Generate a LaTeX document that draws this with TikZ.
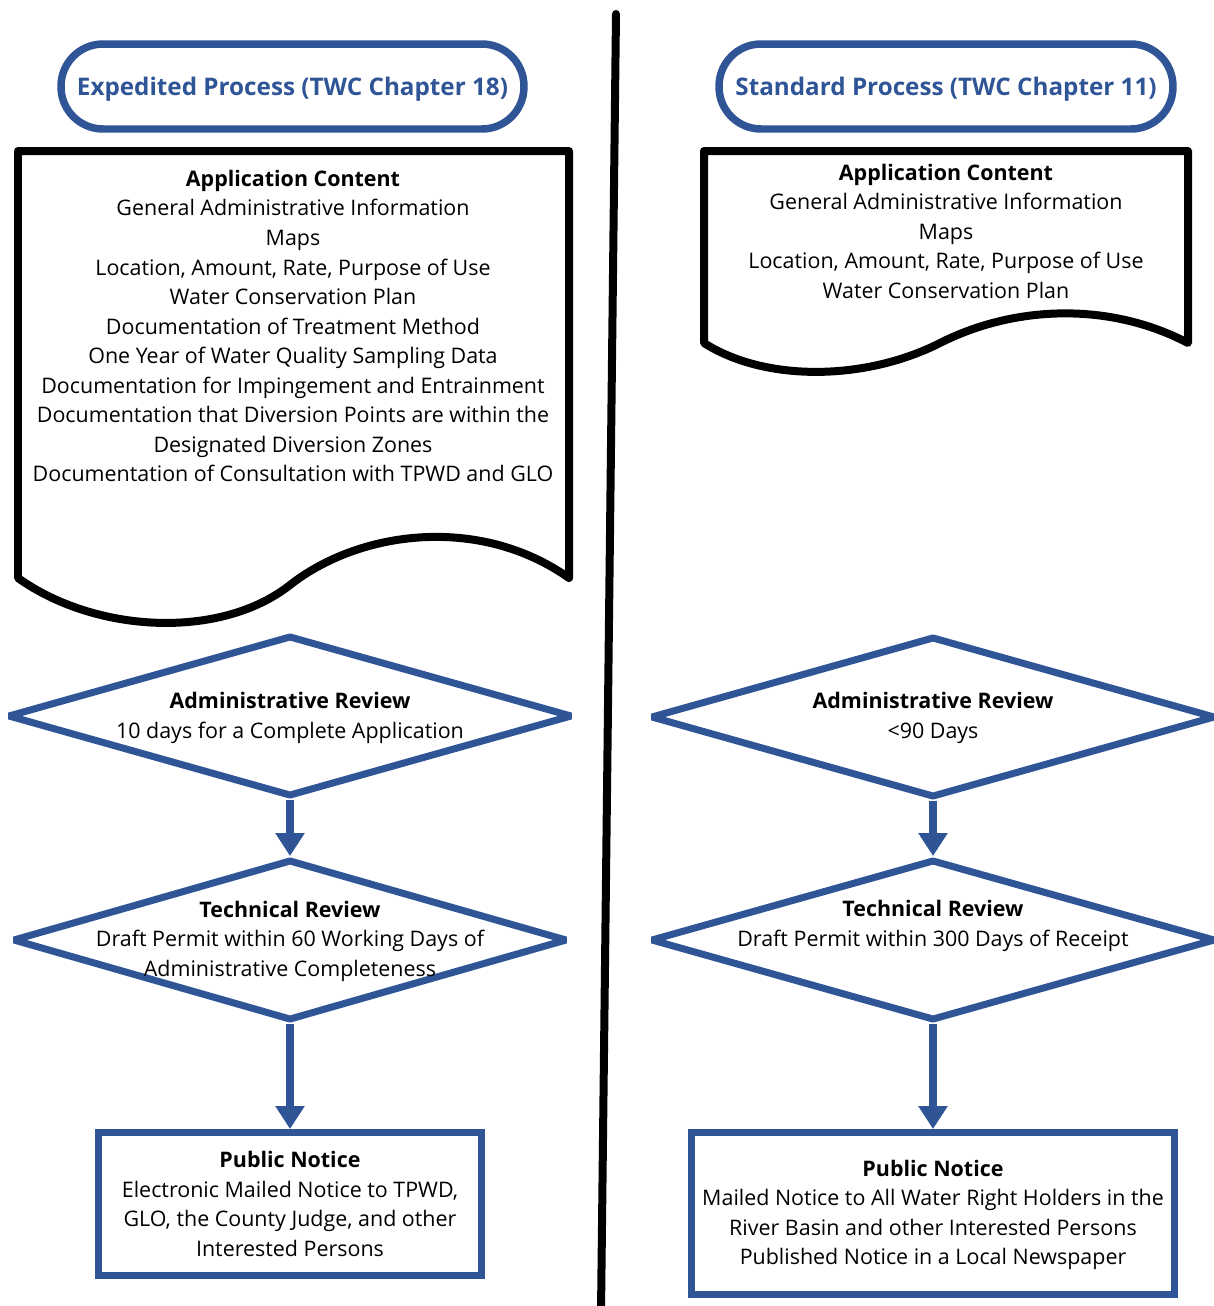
\documentclass[tikz,border=0pt]{standalone}
\usepackage{fontspec}
\setmainfont{Open Sans}
\usetikzlibrary{shapes.geometric}
\usetikzlibrary{arrows.meta}

\definecolor{twcblue}{RGB}{47,85,151}

\tikzset{
    pill/.style={draw=twcblue, line width=0.15cm, rounded corners=0.84cm,
        minimum height=1.7cm, inner sep=0pt, text=twcblue, text depth=0pt,
        font=\fontsize{13.8}{17}\selectfont\bfseries},
    docshape/.style={draw=black, line width=0.16cm, line join=round},
    txt/.style={align=center, inner sep=0pt, font=\fontsize{12.2}{16.8}\selectfont},
    decide/.style={diamond, draw=twcblue, line width=0.14cm, line join=bevel,
        inner sep=0pt, minimum height=3.22cm},
    notice/.style={draw=twcblue, line width=0.14cm, inner sep=0pt},
    flow/.style={draw=twcblue, line width=0.16cm,
        -{Triangle[width=0.56cm, length=0.46cm]}}
}

\begin{document}
\begin{tikzpicture}[x=0.02cm, y=-0.02cm]
\useasboundingbox (0,0) rectangle (1214,1306);

\coordinate (T) at (616,14);
\coordinate (B) at (601,1312);
\draw[black, line width=0.16cm, line cap=round] (T)--(B);

% expedited
\node[pill, minimum width=9.26cm] (exp) at (292.5,86.5) {Expedited Process (TWC Chapter 18)};
\draw[docshape] (18,151) -- (569,151) -- (569,578)
    .. controls (480,515) and (360,530) .. (290,585)
    .. controls (220,640) and (95,633) .. (18,578) -- cycle;
\node[txt] (app1) at (293,326) {\textbf{Application Content}\\
    General Administrative Information\\
    Maps\\
    Location, Amount, Rate, Purpose of Use\\
    Water Conservation Plan\\
    Documentation of Treatment Method\\
    One Year of Water Quality Sampling Data\\
    Documentation for Impingement and Entrainment\\
    Documentation that Diversion Points are within the\\
    Designated Diversion Zones\\
    Documentation of Consultation with TPWD and GLO};
\node[decide, minimum width=11.3cm] (adm1) at (290,716) {};
\node[txt] (admtxt1) at (290,718) {\textbf{Administrative Review}\\
    10 days for a Complete Application};
\node[decide, minimum width=11.1cm] (tec1) at (290,940) {};
\node[txt] (tectxt1) at (290,941) {\textbf{Technical Review}\\
    Draft Permit within 60 Working Days of\\
    Administrative Completeness};
\node[notice, minimum width=7.66cm, minimum height=2.86cm] (pub1) at (290,1204) {};
\node[txt] (pubtxt1) at (290,1204) {\textbf{Public Notice}\\
    Electronic Mailed Notice to TPWD,\\
    GLO, the County Judge, and other\\
    Interested Persons};
\draw[flow] (adm1.south) -- (tec1.north);
\draw[flow] (tec1.south) -- (pub1.north);

% standard
\node[pill, minimum width=9.08cm] (std) at (946,86.5) {Standard Process (TWC Chapter 11)};
\draw[docshape] (704,151) -- (1188,151) -- (1188,343)
    .. controls (1110,302) and (1015,305) .. (940,343)
    .. controls (865,381) and (765,382) .. (704,343) -- cycle;
\node[txt] (app2) at (946,231) {\textbf{Application Content}\\
    General Administrative Information\\
    Maps\\
    Location, Amount, Rate, Purpose of Use\\
    Water Conservation Plan};
\node[decide, minimum width=11.3cm] (adm2) at (933,717) {};
\node[txt] (admtxt2) at (933,718) {\textbf{Administrative Review}\\
    <90 Days};
\node[decide, minimum width=11.3cm] (tec2) at (933,940) {};
\node[txt] (tectxt2) at (933,926) {\textbf{Technical Review}\\
    Draft Permit within 300 Days of Receipt};
\node[notice, minimum width=9.66cm, minimum height=3.24cm] (pub2) at (933,1213.5) {};
\node[txt] (pubtxt2) at (933,1215) {\textbf{Public Notice}\\
    Mailed Notice to All Water Right Holders in the\\
    River Basin and other Interested Persons\\
    Published Notice in a Local Newspaper};
\draw[flow] (adm2.south) -- (tec2.north);
\draw[flow] (tec2.south) -- (pub2.north);
\end{tikzpicture}
\end{document}
